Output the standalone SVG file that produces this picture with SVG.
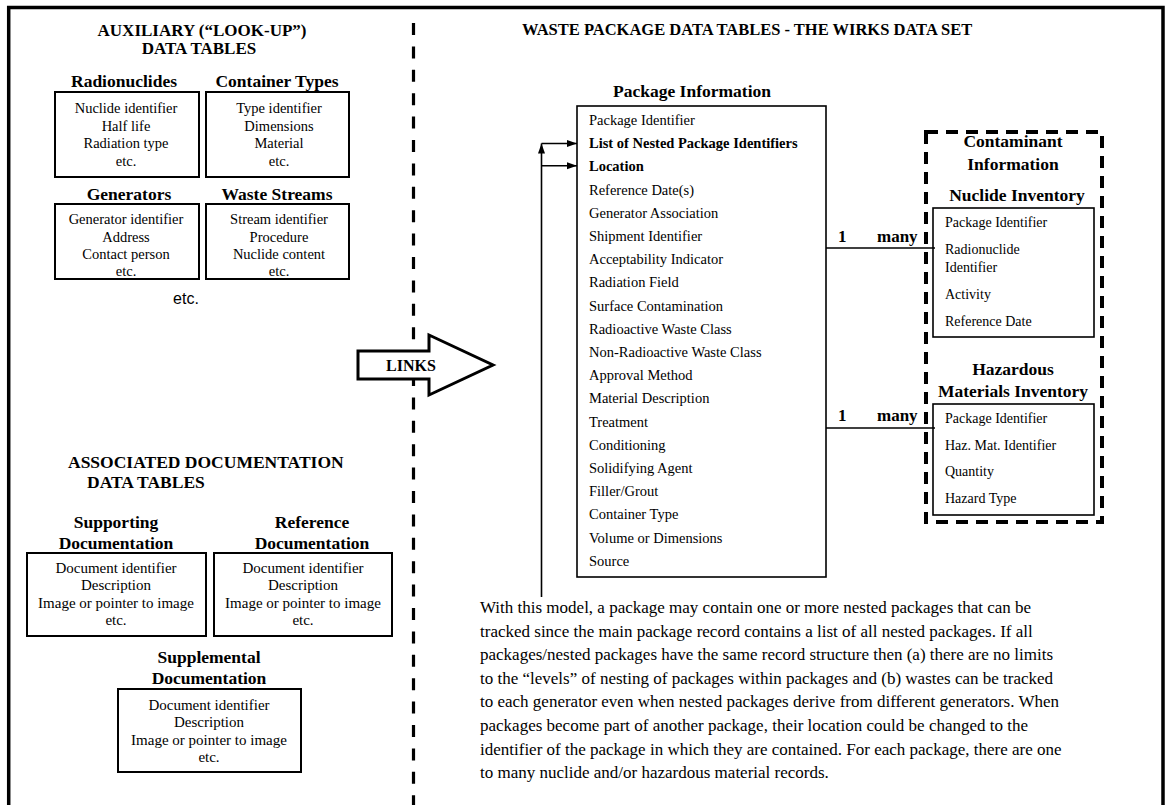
<svg xmlns="http://www.w3.org/2000/svg" width="1168" height="805" viewBox="0 0 1168 805">
  <style>
    text { font-family: "Liberation Serif", "Times New Roman", serif; fill: #000; }
    .hd { font-weight: bold; font-size: 17px; }
    .tt { font-weight: bold; font-size: 17.5px; text-anchor: middle; }
    .it { font-size: 14.5px; text-anchor: middle; }
    .dc { font-size: 15px; text-anchor: middle; }
    .fl { font-size: 14.5px; }
    .fs { font-size: 14px; }
    .fb { font-size: 14.5px; font-weight: bold; }
    .card { font-weight: bold; font-size: 17px; }
    .para { font-size: 17px; }
    .box { fill: #fff; stroke: #000; stroke-width: 2; }
    .tbl { fill: #fff; stroke: #000; stroke-width: 1.6; }
    .frame { fill: none; stroke: #000; stroke-width: 3.5; }
    .wire { fill: none; stroke: #000; stroke-width: 1.6; }
  </style>
  <defs>
    <marker id="head" markerUnits="userSpaceOnUse" markerWidth="11" markerHeight="8" refX="10" refY="3.5" orient="auto">
      <path d="M0,0 L10,3.5 L0,7 z" fill="#000"/>
    </marker>
  </defs>

  <!-- page frame and column divider -->
  <g id="frame">
    <path class="frame" d="M8.7,805 V7.5 H1163 V805"/>
    <line x1="413.5" y1="23" x2="413.5" y2="805" stroke="#000" stroke-width="3.2" stroke-dasharray="12 11.4"/>
  </g>

  <!-- auxiliary look-up tables -->
  <g id="aux-heading">
    <text class="hd" x="202" y="36" text-anchor="middle">AUXILIARY (“LOOK-UP”)</text>
    <text class="hd" x="199" y="54" text-anchor="middle">DATA TABLES</text>
  </g>

  <g id="radionuclides">
    <text class="tt" x="124" y="87">Radionuclides</text>
    <rect class="box" x="55" y="92" width="144" height="85"/>
    <text class="it" x="126" y="113">Nuclide identifier</text>
    <text class="it" x="126" y="131">Half life</text>
    <text class="it" x="126" y="148">Radiation type</text>
    <text class="it" x="126" y="166">etc.</text>
  </g>

  <g id="container-types">
    <text class="tt" x="277" y="87">Container Types</text>
    <rect class="box" x="206" y="92" width="143" height="85"/>
    <text class="it" x="279" y="113">Type identifier</text>
    <text class="it" x="279" y="131">Dimensions</text>
    <text class="it" x="279" y="148">Material</text>
    <text class="it" x="279" y="166">etc.</text>
  </g>

  <g id="generators">
    <text class="tt" x="129" y="200">Generators</text>
    <rect class="box" x="55" y="204" width="144" height="75"/>
    <text class="it" x="126" y="224">Generator identifier</text>
    <text class="it" x="126" y="242">Address</text>
    <text class="it" x="126" y="259">Contact person</text>
    <text class="it" x="126" y="276">etc.</text>
  </g>

  <g id="waste-streams">
    <text class="tt" x="277" y="200">Waste Streams</text>
    <rect class="box" x="206" y="204" width="143" height="75"/>
    <text class="it" x="279" y="224">Stream identifier</text>
    <text class="it" x="279" y="242">Procedure</text>
    <text class="it" x="279" y="259">Nuclide content</text>
    <text class="it" x="279" y="276">etc.</text>
  </g>

  <text x="186" y="304" text-anchor="middle" style="font-family: 'Liberation Sans', Arial, sans-serif; font-size: 16px;">etc.</text>

  <!-- associated documentation tables -->
  <g id="doc-heading">
    <text class="hd" x="68" y="468" style="font-size:17.5px">ASSOCIATED DOCUMENTATION</text>
    <text class="hd" x="87" y="488" style="font-size:17.5px">DATA TABLES</text>
  </g>

  <g id="supporting-doc">
    <text class="tt" x="116" y="528">Supporting</text>
    <text class="tt" x="116" y="549">Documentation</text>
    <rect class="box" x="27" y="553" width="179" height="83"/>
    <text class="dc" x="116" y="573">Document identifier</text>
    <text class="dc" x="116" y="590">Description</text>
    <text class="dc" x="116" y="608">Image or pointer to image</text>
    <text class="dc" x="116" y="625">etc.</text>
  </g>

  <g id="reference-doc">
    <text class="tt" x="312" y="528">Reference</text>
    <text class="tt" x="312" y="549">Documentation</text>
    <rect class="box" x="214" y="553" width="178" height="83"/>
    <text class="dc" x="303" y="573">Document identifier</text>
    <text class="dc" x="303" y="590">Description</text>
    <text class="dc" x="303" y="608">Image or pointer to image</text>
    <text class="dc" x="303" y="625">etc.</text>
  </g>

  <g id="supplemental-doc">
    <text class="tt" x="209" y="663">Supplemental</text>
    <text class="tt" x="209" y="684">Documentation</text>
    <rect class="box" x="118" y="689" width="183" height="83"/>
    <text class="dc" x="209" y="710">Document identifier</text>
    <text class="dc" x="209" y="727">Description</text>
    <text class="dc" x="209" y="745">Image or pointer to image</text>
    <text class="dc" x="209" y="762">etc.</text>
  </g>

  <!-- block arrow across the divider -->
  <g id="links">
    <polygon points="358,351 429,351 429,335 493,365 429,395 429,379 358,379" fill="#fff" stroke="#000" stroke-width="3"/>
    <text x="386" y="371" style="font-weight:bold; font-size:16px;">LINKS</text>
  </g>

  <!-- waste package tables -->
  <text class="hd" x="522" y="35" style="font-size:16.5px">WASTE PACKAGE DATA TABLES - THE WIRKS DATA SET</text>

  <g id="package-information">
    <text class="tt" x="692" y="97">Package Information</text>
    <rect class="tbl" x="577" y="106" width="249" height="471"/>
    <text class="fl" x="589" y="125">Package Identifier</text>
    <text class="fb" x="589" y="148.2">List of Nested Package Identifiers</text>
    <text class="fb" x="589" y="171.4">Location</text>
    <text class="fl" x="589" y="194.6">Reference Date(s)</text>
    <text class="fl" x="589" y="217.8">Generator Association</text>
    <text class="fl" x="589" y="241">Shipment Identifier</text>
    <text class="fl" x="589" y="264.2">Acceptability Indicator</text>
    <text class="fl" x="589" y="287.4">Radiation Field</text>
    <text class="fl" x="589" y="310.6">Surface Contamination</text>
    <text class="fl" x="589" y="333.8">Radioactive Waste Class</text>
    <text class="fl" x="589" y="357">Non-Radioactive Waste Class</text>
    <text class="fl" x="589" y="380.2">Approval Method</text>
    <text class="fl" x="589" y="403.4">Material Description</text>
    <text class="fl" x="589" y="426.6">Treatment</text>
    <text class="fl" x="589" y="449.8">Conditioning</text>
    <text class="fl" x="589" y="473">Solidifying Agent</text>
    <text class="fl" x="589" y="496.2">Filler/Grout</text>
    <text class="fl" x="589" y="519.4">Container Type</text>
    <text class="fl" x="589" y="542.6">Volume or Dimensions</text>
    <text class="fl" x="589" y="565.8">Source</text>
  </g>

  <g id="contaminant-information">
    <rect x="926" y="132" width="176" height="390" fill="none" stroke="#000" stroke-width="4" stroke-dasharray="12 8"/>
    <text class="tt" x="1013" y="147">Contaminant</text>
    <text class="tt" x="1013" y="170">Information</text>
  </g>

  <g id="nuclide-inventory">
    <text class="tt" x="1017" y="201">Nuclide Inventory</text>
    <rect class="tbl" x="933" y="208" width="161" height="129"/>
    <text class="fs" x="945" y="227">Package Identifier</text>
    <text class="fs" x="945" y="254">Radionuclide</text>
    <text class="fs" x="945" y="272">Identifier</text>
    <text class="fs" x="945" y="299">Activity</text>
    <text class="fs" x="945" y="326">Reference Date</text>
  </g>

  <g id="hazardous-inventory">
    <text class="tt" x="1013" y="375">Hazardous</text>
    <text class="tt" x="1013" y="397">Materials Inventory</text>
    <rect class="tbl" x="933" y="404" width="161" height="111"/>
    <text class="fs" x="945" y="423">Package Identifier</text>
    <text class="fs" x="945" y="450">Haz. Mat. Identifier</text>
    <text class="fs" x="945" y="476">Quantity</text>
    <text class="fs" x="945" y="503">Hazard Type</text>
  </g>

  <!-- connectors -->
  <g id="connectors">
    <path class="wire" d="M541.5,597 V143.5" marker-end="url(#head)"/>
    <path class="wire" d="M541.5,143.5 H577" marker-end="url(#head)"/>
    <path class="wire" d="M541.5,165.8 H577" marker-end="url(#head)"/>
    <line class="wire" x1="826" y1="248" x2="935" y2="248"/>
    <line class="wire" x1="826" y1="428" x2="935" y2="428"/>
    <text class="card" x="838" y="242">1</text>
    <text class="card" x="877" y="242">many</text>
    <text class="card" x="838" y="421">1</text>
    <text class="card" x="877" y="421">many</text>
  </g>

  <!-- explanatory note -->
  <g id="note">
    <text class="para" x="480" y="613">With this model, a package may contain one or more nested packages that can be</text>
    <text class="para" x="480" y="636.6">tracked since the main package record contains a list of all nested packages. If all</text>
    <text class="para" x="480" y="660.2">packages/nested packages have the same record structure then (a) there are no limits</text>
    <text class="para" x="480" y="683.8">to the “levels” of nesting of packages within packages and (b) wastes can be tracked</text>
    <text class="para" x="480" y="707.4">to each generator even when nested packages derive from different generators. When</text>
    <text class="para" x="480" y="731">packages become part of another package, their location could be changed to the</text>
    <text class="para" x="480" y="754.6">identifier of the package in which they are contained. For each package, there are one</text>
    <text class="para" x="480" y="778.2">to many nuclide and/or hazardous material records.</text>
  </g>
</svg>
